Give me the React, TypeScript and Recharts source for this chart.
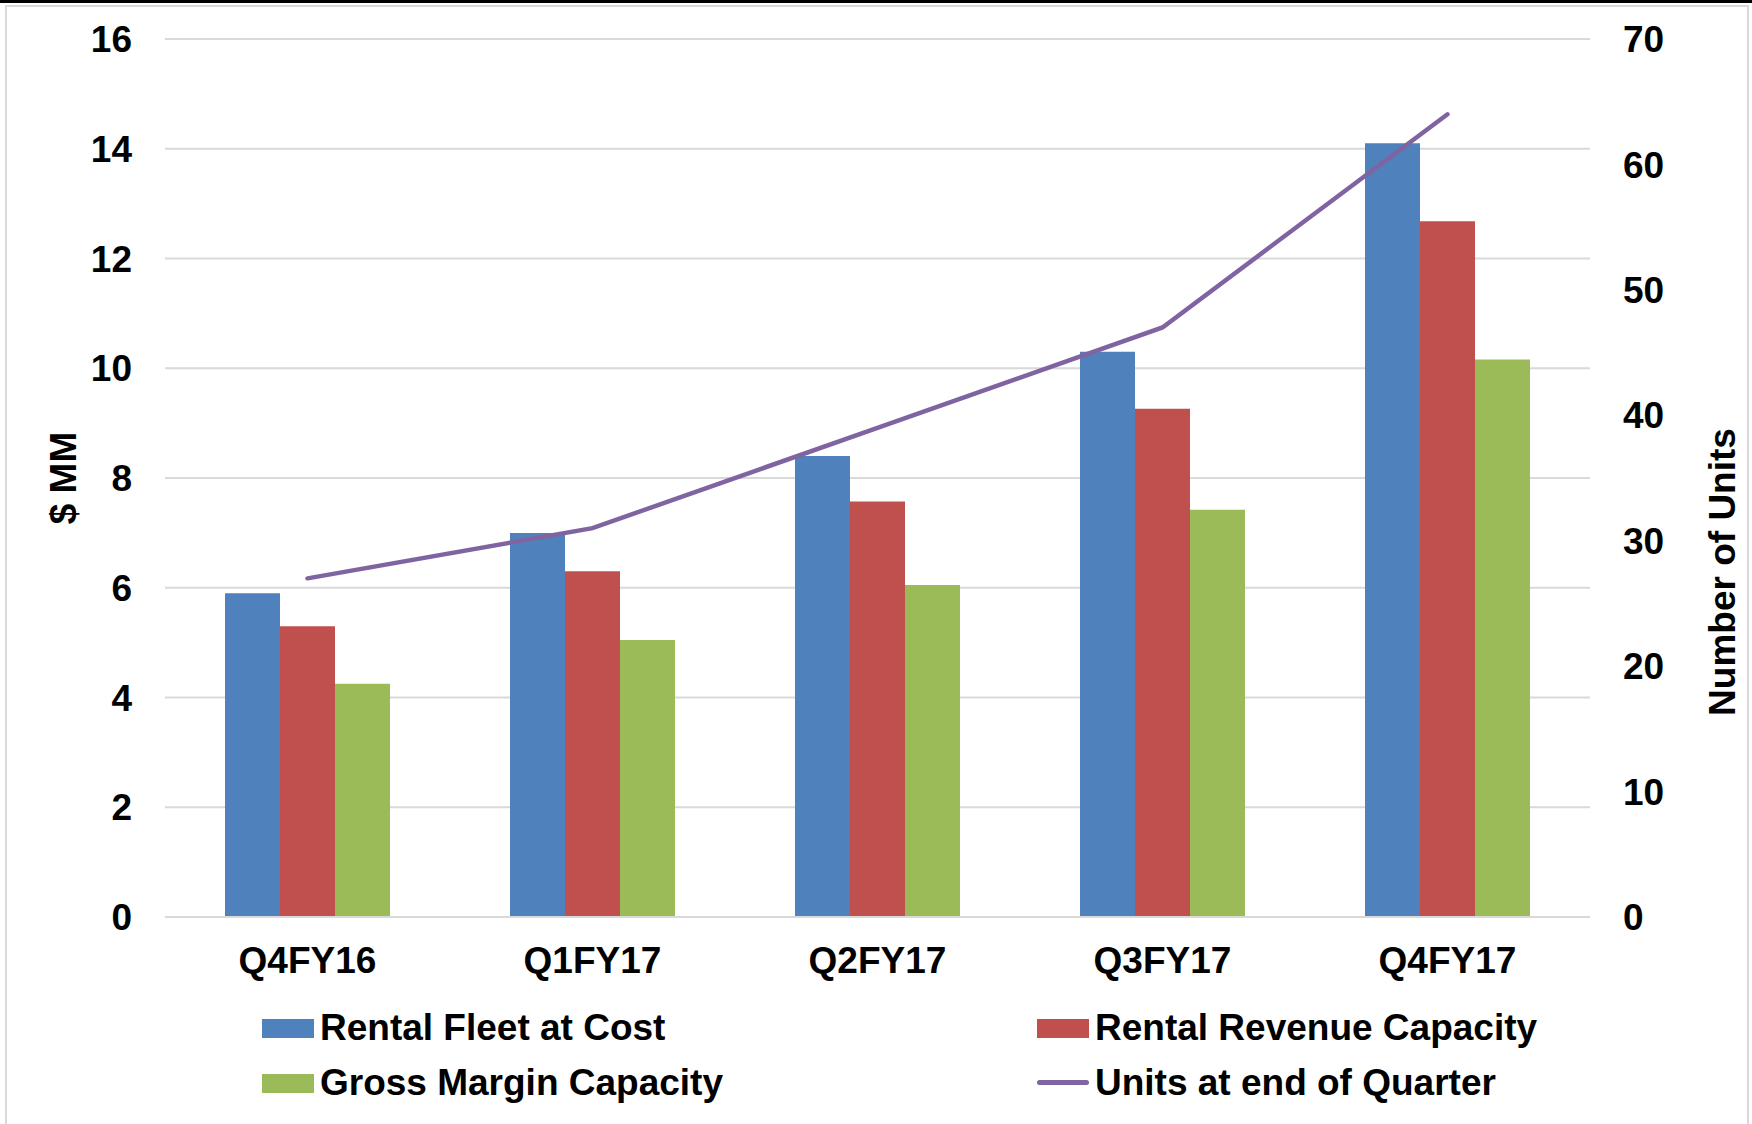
import React from "react";
import {
  ComposedChart,
  Bar,
  Line,
  XAxis,
  YAxis,
  CartesianGrid,
  Legend,
} from "recharts";

const quarters = ["Q4FY16", "Q1FY17", "Q2FY17", "Q3FY17", "Q4FY17"];
const rentalFleetAtCost = [5.9, 7.0, 8.4, 10.3, 14.1];
const rentalRevenueCapacity = [5.3, 6.3, 7.57, 9.26, 12.68];
const grossMarginCapacity = [4.25, 5.05, 6.05, 7.42, 10.16];
const unitsAtEndOfQuarter = [27, 31, 39, 47, 64];
const leftTicks = [0, 2, 4, 6, 8, 10, 12, 14, 16];
const rightTicks = [0, 10, 20, 30, 40, 50, 60, 70];

const data = quarters.map((q, i) => ({
  quarter: q,
  fleet: rentalFleetAtCost[i],
  revenue: rentalRevenueCapacity[i],
  margin: grossMarginCapacity[i],
  units: unitsAtEndOfQuarter[i],
}));

const FONT = "'Liberation Sans', Arial, sans-serif";
const tickStyle = { fill: "#000", fontSize: 37, fontWeight: 700, fontFamily: FONT };

const legendPos: Record<string, { left: number; top: number }> = {
  "Rental Fleet at Cost": { left: 262, top: 1028 },
  "Rental Revenue Capacity": { left: 1037, top: 1028 },
  "Gross Margin Capacity": { left: 262, top: 1083 },
  "Units at end of Quarter": { left: 1037, top: 1083 },
};

const LegendContent = (props: any) => {
  const payload = props.payload || [];
  return (
    <div style={{ position: "relative", width: 1752, height: 1124 }}>
      {payload.map((p: any) => {
        const pos = legendPos[p.value];
        if (!pos) return null;
        const isLine = p.type === "line" || p.dataKey === "units";
        return (
          <div
            key={p.value}
            style={{
              position: "absolute",
              left: pos.left,
              top: pos.top - 25,
              height: 50,
              display: "flex",
              alignItems: "center",
              whiteSpace: "nowrap",
            }}
          >
            {isLine ? (
              <div style={{ width: 52, height: 50, position: "relative" }}>
                <div
                  style={{
                    position: "absolute",
                    left: 0,
                    top: 22,
                    width: 52,
                    height: 5,
                    borderRadius: 3,
                    background: p.color,
                  }}
                />
              </div>
            ) : (
              <div style={{ width: 52, height: 19, background: p.color }} />
            )}
            <span
              style={{
                marginLeft: 6,
                fontFamily: FONT,
                fontWeight: 700,
                fontSize: 37,
                color: "#000",
                lineHeight: "50px",
              }}
            >
              {p.value}
            </span>
          </div>
        );
      })}
    </div>
  );
};

const LeftLabel = (props: any) => {
  const vb = props.viewBox || { x: 0, y: 0, width: 0, height: 0 };
  const cx = vb.x + 63;
  const cy = vb.y + vb.height / 2;
  return (
    <text
      x={cx}
      y={cy}
      transform={`rotate(-90, ${cx}, ${cy})`}
      textAnchor="middle"
      dominantBaseline="central"
      fill="#000"
      fontSize={37}
      fontWeight={700}
      fontFamily={FONT}
    >
      $ MM
    </text>
  );
};

const RightLabel = (props: any) => {
  const vb = props.viewBox || { x: 0, y: 0, width: 0, height: 0 };
  const cx = vb.x + 132;
  const cy = vb.y + vb.height / 2 + 94;
  return (
    <text
      x={cx}
      y={cy}
      transform={`rotate(-90, ${cx}, ${cy})`}
      textAnchor="middle"
      dominantBaseline="central"
      fill="#000"
      fontSize={37}
      fontWeight={700}
      fontFamily={FONT}
    >
      Number of Units
    </text>
  );
};

export default function App() {
  return (
    <div style={{ position: "relative", width: 1752, height: 1124, overflow: "hidden", background: "#fff" }}>
      <style>{`body{margin:0;background:#fff;}`}</style>
      <div style={{ position: "absolute", left: 0, top: 0, width: 1752, height: 3, background: "#000" }} />
      <div
        style={{
          position: "absolute",
          left: 5,
          top: 5,
          width: 1744,
          height: 1140,
          boxSizing: "border-box",
          borderLeft: "2px solid #D9D9D9",
          borderTop: "2px solid #D9D9D9",
          borderRight: "2px solid #D9D9D9",
        }}
      />
      <div style={{ position: "absolute", left: 0, top: 0 }}>
        <ComposedChart
          width={1752}
          height={1124}
          data={data}
          margin={{ top: 39, right: 0, bottom: 0, left: 0 }}
          barCategoryGap={60}
          barGap={0}
        >
          <CartesianGrid yAxisId="left" vertical={false} stroke="#D9D9D9" strokeWidth={2} />
          <XAxis
            dataKey="quarter"
            height={207}
            tickLine={false}
            tickSize={0}
            tickMargin={30}
            axisLine={{ stroke: "#D9D9D9", strokeWidth: 2 }}
            tick={tickStyle}
            interval={0}
          />
          <YAxis
            yAxisId="left"
            orientation="left"
            width={165}
            domain={[0, 16]}
            ticks={leftTicks}
            tickLine={false}
            tickSize={0}
            tickMargin={33}
            axisLine={false}
            tick={tickStyle}
            label={<LeftLabel />}
          />
          <YAxis
            yAxisId="right"
            orientation="right"
            width={162}
            domain={[0, 70]}
            ticks={rightTicks}
            tickLine={false}
            tickSize={0}
            tickMargin={33}
            axisLine={false}
            tick={tickStyle}
            label={<RightLabel />}
          />
          <Bar yAxisId="left" dataKey="fleet" name="Rental Fleet at Cost" fill="#4F81BD" isAnimationActive={false} />
          <Bar yAxisId="left" dataKey="revenue" name="Rental Revenue Capacity" fill="#C0504D" isAnimationActive={false} />
          <Bar yAxisId="left" dataKey="margin" name="Gross Margin Capacity" fill="#9BBB59" isAnimationActive={false} />
          <Line
            yAxisId="right"
            type="linear"
            dataKey="units"
            name="Units at end of Quarter"
            stroke="#8064A2"
            strokeWidth={4.5}
            strokeLinecap="round"
            dot={false}
            activeDot={false}
            isAnimationActive={false}
          />
          <Legend
            verticalAlign="middle"
            layout="horizontal"
            wrapperStyle={{ top: 0, left: 0, width: 1752, height: 1124, pointerEvents: "none" }}
            content={<LegendContent />}
          />
        </ComposedChart>
      </div>
    </div>
  );
}
